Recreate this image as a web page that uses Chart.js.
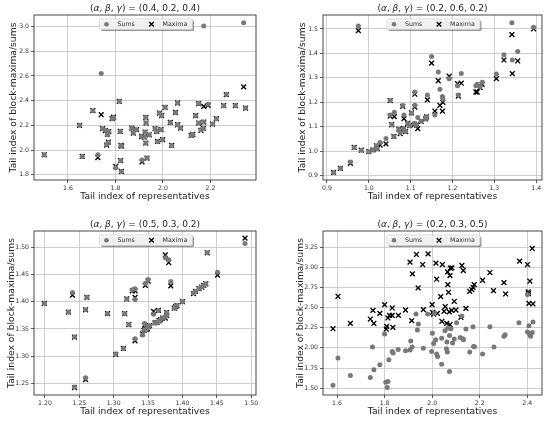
<!DOCTYPE html>
<html>
<head>
<meta charset="utf-8">
<script src="https://cdn.jsdelivr.net/npm/chart.js@4.4.0/dist/chart.umd.min.js"></script>
<style>
  body { margin: 0; background: #fff; }
  #fig { position: relative; width: 550px; height: 422px; }
  #fig canvas { position: absolute; display: block; }
</style>
</head>
<body>
<div id="fig">
  <canvas id="c1" width="275" height="211" style="left:0;top:0"></canvas>
  <canvas id="c2" width="275" height="211" style="left:275px;top:0"></canvas>
  <canvas id="c3" width="275" height="211" style="left:0;top:211px"></canvas>
  <canvas id="c4" width="275" height="211" style="left:275px;top:211px"></canvas>
</div>
<script>
// (alpha, beta, gamma) = (0.4, 0.2, 0.4)
const tlX = [1.500,1.649,1.660,1.705,1.726,1.740,1.746,1.758,1.763,1.766,1.770,1.772,1.786,1.792,1.801,1.816,1.820,1.823,1.826,1.822,1.825,1.869,1.875,1.889,1.910,1.912,1.928,1.929,1.925,1.921,1.928,1.933,1.942,1.967,1.974,1.977,1.985,1.995,1.992,1.999,2.009,2.031,2.037,2.053,2.062,2.062,2.074,2.119,2.126,2.138,2.151,2.151,2.160,2.172,2.172,2.170,2.190,2.209,2.225,2.256,2.267,2.305,2.340,2.348];
const tlSums = [1.962,2.200,1.949,2.319,1.962,2.620,2.173,2.160,2.045,2.125,2.062,2.150,2.254,2.262,1.858,2.395,2.151,2.038,2.032,1.914,1.827,2.178,2.138,2.165,2.110,1.920,2.265,2.219,2.146,2.105,2.057,1.935,2.124,2.173,2.151,2.070,2.300,2.278,2.165,2.084,2.346,2.224,2.038,2.305,2.381,2.205,2.178,2.119,2.128,2.278,2.376,2.219,2.165,3.005,2.227,2.176,2.370,2.211,2.254,2.359,2.449,2.360,3.030,2.340];
const tlMaxima = [1.962,2.200,1.949,2.319,1.940,2.286,2.173,2.158,2.040,2.130,2.065,2.150,2.254,2.266,1.868,2.395,2.151,2.038,2.032,1.914,1.827,2.178,2.138,2.165,2.110,1.905,2.265,2.219,2.146,2.105,2.057,1.935,2.124,2.173,2.151,2.070,2.300,2.278,2.165,2.084,2.346,2.224,2.038,2.305,2.381,2.205,2.178,2.119,2.128,2.278,2.376,2.219,2.160,2.354,2.227,2.176,2.362,2.211,2.254,2.359,2.449,2.360,2.512,2.340];
const tlXTicks = ['1.6', '1.8', '2.0', '2.2'];
const tlYTicks = ['1.8', '2.0', '2.2', '2.4', '2.6', '2.8', '3.0'];

// (0.2, 0.6, 0.2)
const trX = [0.916,0.932,0.956,0.965,0.975,0.982,1.000,1.010,1.018,1.020,1.027,1.041,1.051,1.051,1.055,1.060,1.061,1.072,1.075,1.081,1.083,1.084,1.088,1.093,1.098,1.102,1.109,1.110,1.110,1.114,1.117,1.125,1.136,1.138,1.140,1.150,1.158,1.166,1.170,1.176,1.177,1.192,1.212,1.214,1.221,1.256,1.259,1.266,1.271,1.305,1.323,1.342,1.343,1.356,1.394];
const trSums = [0.913,0.930,0.956,1.015,1.512,1.004,0.998,1.005,1.022,1.010,1.035,1.052,1.207,1.148,1.108,1.060,1.159,1.090,1.075,1.187,1.093,1.148,1.080,1.114,1.104,1.155,1.114,1.242,1.188,1.107,1.138,1.122,1.132,1.141,1.230,1.387,1.148,1.324,1.253,1.224,1.212,1.296,1.268,1.230,1.318,1.268,1.274,1.264,1.282,1.316,1.394,1.525,1.373,1.408,1.507];
const trMaxima = [0.913,0.930,0.950,1.015,1.493,1.004,0.998,1.005,1.022,1.010,1.025,1.030,1.207,1.143,1.108,1.060,1.141,1.090,1.072,1.183,1.093,1.133,1.080,1.114,1.104,1.157,1.110,1.233,1.180,1.107,1.092,1.122,1.132,1.140,1.210,1.360,1.164,1.288,1.187,1.164,1.200,1.307,1.276,1.225,1.278,1.242,1.242,1.260,1.273,1.297,1.373,1.477,1.317,1.369,1.500];
const trXTicks = ['0.9', '1.0', '1.1', '1.2', '1.3', '1.4'];
const trYTicks = ['0.9', '1.0', '1.1', '1.2', '1.3', '1.4', '1.5'];

// (0.5, 0.3, 0.2)
const blX = [1.199,1.234,1.240,1.243,1.243,1.259,1.259,1.261,1.291,1.303,1.314,1.316,1.319,1.322,1.327,1.331,1.331,1.331,1.342,1.344,1.345,1.346,1.347,1.349,1.350,1.350,1.352,1.358,1.360,1.363,1.365,1.366,1.368,1.371,1.375,1.375,1.377,1.377,1.380,1.383,1.388,1.390,1.392,1.400,1.416,1.419,1.424,1.428,1.431,1.434,1.436,1.451,1.491];
const blSums = [1.397,1.381,1.417,1.335,1.243,1.260,1.385,1.408,1.378,1.304,1.314,1.378,1.405,1.358,1.422,1.424,1.404,1.332,1.339,1.347,1.360,1.434,1.349,1.352,1.441,1.354,1.356,1.377,1.361,1.362,1.384,1.365,1.367,1.370,1.481,1.372,1.375,1.380,1.477,1.437,1.388,1.391,1.393,1.400,1.416,1.419,1.424,1.427,1.430,1.433,1.490,1.454,1.507];
const blMaxima = [1.397,1.381,1.412,1.335,1.242,1.257,1.385,1.408,1.378,1.303,1.314,1.378,1.405,1.358,1.420,1.420,1.408,1.328,1.341,1.347,1.357,1.430,1.349,1.350,1.438,1.354,1.356,1.382,1.361,1.362,1.384,1.365,1.367,1.370,1.486,1.370,1.375,1.380,1.472,1.429,1.388,1.391,1.393,1.400,1.415,1.419,1.424,1.427,1.430,1.433,1.490,1.449,1.517];
const blXTicks = ['1.20', '1.25', '1.30', '1.35', '1.40', '1.45', '1.50'];
const blYTicks = ['1.25', '1.30', '1.35', '1.40', '1.45', '1.50'];

// (0.2, 0.3, 0.5) - sums and maxima read separately here
const brSumsX = [1.583,1.604,1.656,1.740,1.749,1.755,1.780,1.800,1.805,1.811,1.814,1.818,1.832,1.836,1.857,1.888,1.907,1.910,1.916,1.932,1.938,1.942,1.963,1.981,1.998,2.001,2.006,2.010,2.015,2.019,2.023,2.040,2.040,2.054,2.060,2.062,2.064,2.066,2.073,2.073,2.079,2.086,2.093,2.103,2.118,2.125,2.129,2.132,2.142,2.158,2.172,2.174,2.178,2.212,2.243,2.260,2.302,2.307,2.365,2.401,2.401,2.407,2.410,2.414,2.424,2.421];
const brSums = [1.537,1.873,1.657,1.632,2.010,1.728,1.790,2.172,1.574,1.508,1.583,1.852,1.956,1.935,1.980,1.964,1.973,2.084,2.010,2.420,2.221,2.296,1.997,2.420,1.956,2.180,2.055,2.429,2.100,1.923,1.894,1.798,2.121,2.213,1.989,2.072,1.948,2.246,1.707,2.155,2.238,2.060,2.109,2.313,2.130,2.396,2.113,2.100,2.234,1.948,2.263,2.018,2.014,1.923,2.263,2.010,2.143,2.163,2.313,2.196,2.661,2.275,2.163,2.143,2.321,2.192];
const brMaximaX = [1.583,1.604,1.656,1.740,1.751,1.755,1.780,1.800,1.807,1.809,1.814,1.821,1.832,1.832,1.835,1.858,1.888,1.907,1.914,1.917,1.934,1.941,1.960,1.963,1.983,2.000,2.002,2.006,2.016,2.019,2.022,2.036,2.043,2.041,2.050,2.055,2.061,2.065,2.066,2.069,2.072,2.075,2.077,2.083,2.075,2.082,2.093,2.100,2.121,2.125,2.131,2.142,2.158,2.167,2.172,2.177,2.212,2.243,2.258,2.302,2.309,2.368,2.401,2.404,2.405,2.411,2.407,2.424,2.421];
const brMaxima = [2.238,2.640,2.304,2.358,2.466,2.304,2.429,2.537,2.234,2.267,2.371,2.404,2.495,2.404,2.255,2.404,2.470,3.063,2.338,2.918,3.159,2.744,3.034,2.474,3.167,2.537,2.441,2.420,3.051,2.852,2.429,2.636,3.034,2.330,2.454,2.511,2.304,2.943,2.785,2.690,2.446,2.897,2.989,2.993,2.288,2.466,2.578,2.470,2.379,3.022,2.960,2.491,2.702,2.723,2.752,2.785,2.839,2.935,2.710,2.810,2.669,3.076,3.034,2.694,2.673,2.827,2.553,2.545,3.233];
const brXTicks = ['1.6', '1.8', '2.0', '2.2', '2.4'];
const brYTicks = ['1.50', '1.75', '2.00', '2.25', '2.50', '2.75', '3.00', '3.25'];

const panelTitles = ['(0.4, 0.2, 0.4)', '(0.2, 0.6, 0.2)', '(0.5, 0.3, 0.2)', '(0.2, 0.3, 0.5)'];

const FONT = "'DejaVu Sans', sans-serif";
const W = 275, H = 211;
const SUMS_COLOR = '#787878';
const MAX_COLOR = '#000000';

// legend box + items drawn inside the plot, like matplotlib's shadowed legend
const panelLegend = {
    id: 'panelLegend',
    afterDraw(chart) {
        const { ctx, chartArea: a } = chart;
        const bw = 93, bh = 10.5;
        const bx = (a.left + a.right) / 2 - bw / 2 + 1;
        const by = a.top + 4;
        ctx.save();
        ctx.fillStyle = 'rgba(0,0,0,0.4)';
        ctx.beginPath(); ctx.roundRect(bx + 1.5, by + 1.5, bw, bh, 1.5); ctx.fill();
        ctx.fillStyle = 'rgba(255,255,255,0.85)';
        ctx.strokeStyle = '#cccccc';
        ctx.lineWidth = 0.8;
        ctx.beginPath(); ctx.roundRect(bx, by, bw, bh, 1.5); ctx.fill(); ctx.stroke();

        const cy = by + bh / 2;
        const ds = chart.data.datasets;
        // Sums marker
        ctx.fillStyle = SUMS_COLOR;
        ctx.beginPath(); ctx.arc(bx + 7, cy, 2.3, 0, Math.PI * 2); ctx.fill();
        // Maxima marker
        ctx.strokeStyle = MAX_COLOR; ctx.lineWidth = 1.3;
        const d = 2.3, mx = bx + 52;
        ctx.beginPath();
        ctx.moveTo(mx - d, cy - d); ctx.lineTo(mx + d, cy + d);
        ctx.moveTo(mx - d, cy + d); ctx.lineTo(mx + d, cy - d);
        ctx.stroke();

        ctx.fillStyle = '#333';
        ctx.font = '6.3px ' + FONT;
        ctx.textBaseline = 'middle';
        ctx.textAlign = 'left';
        ctx.fillText(ds[0].label, bx + 18, cy);
        ctx.fillText(ds[1].label, bx + 63, cy);
        ctx.restore();
    }
};

// title with italic greek letters
const panelTitle = {
    id: 'panelTitle',
    afterDraw(chart, args, opts) {
        const { ctx, chartArea: a } = chart;
        const parts = [['(', ''], ['α', 'italic '], [', ', ''], ['β', 'italic '], [', ', ''], ['γ', 'italic '], [') = ' + opts.text, '']];
        ctx.save();
        let total = 0;
        parts.forEach(p => { ctx.font = p[1] + '9px ' + FONT; total += ctx.measureText(p[0]).width; });
        let x = (a.left + a.right) / 2 - total / 2;
        ctx.fillStyle = '#222';
        ctx.textBaseline = 'middle';
        ctx.textAlign = 'left';
        parts.forEach(p => {
            ctx.font = p[1] + '9px ' + FONT;
            ctx.fillText(p[0], x, a.top - 6.7);
            x += ctx.measureText(p[0]).width;
        });
        ctx.restore();
    }
};

// full box around the axes
const axesFrame = {
    id: 'axesFrame',
    afterDatasetsDraw(chart) {
        const { ctx, chartArea: a } = chart;
        ctx.save();
        ctx.strokeStyle = '#333';
        ctx.lineWidth = 0.9;
        ctx.strokeRect(a.left, a.top, a.right - a.left, a.bottom - a.top);
        ctx.restore();
    }
};

function toPoints(xs, ys) {
    return xs.map((x, i) => ({ x: x, y: ys[i] }));
}

function drawPanel(id, cfg) {
    const box = cfg.box;
    const lh = 9.2 * 1.2;
    const ctx = document.getElementById(id).getContext('2d');
    return new Chart(ctx, {
        type: 'scatter',
        data: {
            datasets: [
                {
                    label: 'Sums',
                    data: toPoints(cfg.sumsX, cfg.sums),
                    pointStyle: 'circle',
                    pointRadius: 2.5,
                    backgroundColor: SUMS_COLOR,
                    borderWidth: 0,
                },
                {
                    label: 'Maxima',
                    data: toPoints(cfg.maxX, cfg.maxima),
                    pointStyle: 'crossRot',
                    pointRadius: 3.4,
                    borderColor: MAX_COLOR,
                    backgroundColor: MAX_COLOR,
                    borderWidth: 1.35,
                },
            ],
        },
        options: {
            responsive: false,
            animation: false,
            events: [],
            layout: { padding: { left: 0, top: box.top, right: W - box.right, bottom: 0 } },
            plugins: {
                legend: { display: false },
                tooltip: { enabled: false },
                panelTitle: { text: cfg.title },
            },
            scales: {
                x: {
                    type: 'linear',
                    position: 'bottom',
                    min: cfg.xRange[0],
                    max: cfg.xRange[1],
                    afterFit: s => { s.height = H - box.bottom; },
                    afterBuildTicks: s => { s.ticks = cfg.xTicks.map(t => ({ value: parseFloat(t) })); },
                    ticks: {
                        autoSkip: false, maxRotation: 0, padding: 1.5,
                        color: '#333', font: { family: FONT, size: 6.2 },
                        callback: (v, i) => cfg.xTicks[i],
                    },
                    grid: { color: '#c2c2c2', lineWidth: 0.8, tickLength: 3, tickColor: '#333', tickWidth: 0.8 },
                    border: { display: false },
                    title: {
                        display: true,
                        text: 'Tail index of representatives',
                        color: '#222',
                        font: { family: FONT, size: 9.2 },
                        padding: { top: 0, bottom: H - box.bottom - 16.7 - lh / 2 },
                    },
                },
                y: {
                    type: 'linear',
                    position: 'left',
                    min: cfg.yRange[0],
                    max: cfg.yRange[1],
                    afterFit: s => { s.width = box.left; },
                    afterBuildTicks: s => { s.ticks = cfg.yTicks.map(t => ({ value: parseFloat(t) })); },
                    ticks: {
                        autoSkip: false, padding: 2,
                        color: '#333', font: { family: FONT, size: 6.2 },
                        callback: (v, i) => cfg.yTicks[i],
                    },
                    grid: { color: '#c2c2c2', lineWidth: 0.8, tickLength: 3, tickColor: '#333', tickWidth: 0.8 },
                    border: { display: false },
                    title: {
                        display: true,
                        text: 'Tail index of block-maxima/sums',
                        color: '#222',
                        font: { family: FONT, size: 9.2 },
                        padding: { top: cfg.yTitleX - lh / 2, bottom: 0 },
                    },
                },
            },
        },
        plugins: [axesFrame, panelTitle, panelLegend],
    });
}

drawPanel('c1', {
    title: panelTitles[0], box: { left: 34, top: 15, right: 256, bottom: 180 }, yTitleX: 14,
    sumsX: tlX, sums: tlSums, maxX: tlX, maxima: tlMaxima,
    xRange: [1.457, 2.392], yRange: [1.758, 3.093], xTicks: tlXTicks, yTicks: tlYTicks,
});
drawPanel('c2', {
    title: panelTitles[1], box: { left: 48, top: 15, right: 267, bottom: 180 }, yTitleX: 28,
    sumsX: trX, sums: trSums, maxX: trX, maxima: trMaxima,
    xRange: [0.8905, 1.414], yRange: [0.882, 1.557], xTicks: trXTicks, yTicks: trYTicks,
});
drawPanel('c3', {
    title: panelTitles[2], box: { left: 34, top: 20, right: 256, bottom: 184 }, yTitleX: 12,
    sumsX: blX, sums: blSums, maxX: blX, maxima: blMaxima,
    xRange: [1.184, 1.507], yRange: [1.2285, 1.530], xTicks: blXTicks, yTicks: blYTicks,
});
drawPanel('c4', {
    title: panelTitles[3], box: { left: 48, top: 20, right: 267, bottom: 184 }, yTitleX: 26,
    sumsX: brSumsX, sums: brSums, maxX: brMaximaX, maxima: brMaxima,
    xRange: [1.541, 2.462], yRange: [1.4155, 3.45], xTicks: brXTicks, yTicks: brYTicks,
});
</script>
</body>
</html>
